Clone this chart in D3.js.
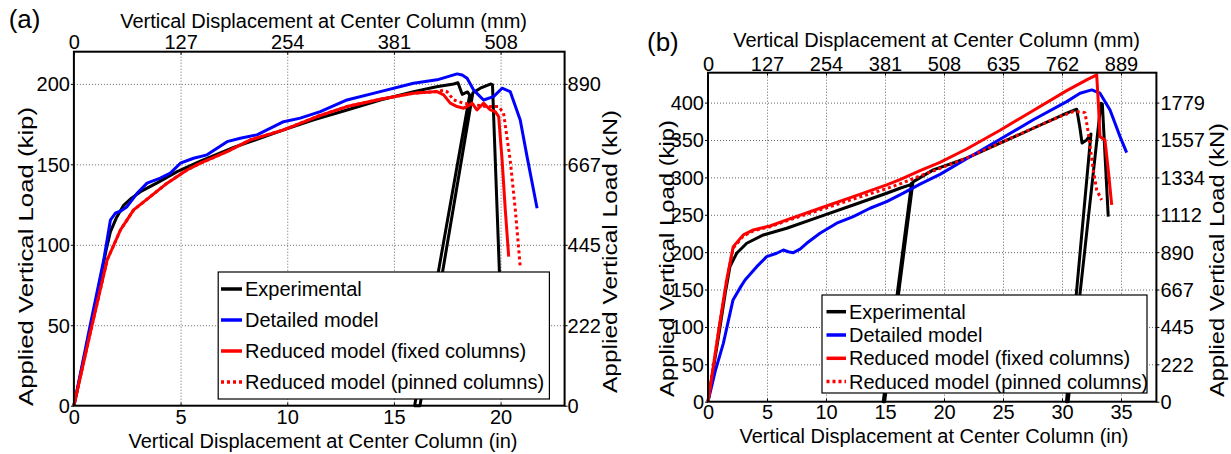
<!DOCTYPE html>
<html>
<head>
<meta charset="utf-8">
<script src="https://cdn.jsdelivr.net/npm/d3@7"></script>
<style>
  body { margin: 0; background: #fff; }
  svg text { font-family: "Liberation Sans", Arial, Helvetica, sans-serif; fill: #000; }
</style>
</head>
<body>
<svg id="fig" width="1231" height="454"></svg>
<script>
const KN = 4.44822;
const MM = 25.4;

const legendLabels = ["Experimental", "Detailed model", "Reduced model (fixed columns)", "Reduced model (pinned columns)"];
const seriesColors = ["#000000", "#0000ff", "#ff0000", "#ff0000"];

const inTicksA = [0, 5, 10, 15, 20];
const kipTicksA = [0, 50, 100, 150, 200];
const mmTicksA = [0, 127, 254, 381, 508];
const inTicksB = [0, 5, 10, 15, 20, 25, 30, 35];
const kipTicksB = [0, 50, 100, 150, 200, 250, 300, 350, 400];
const mmTicksB = [0, 127, 254, 381, 508, 635, 762, 889];

// panel (a) curves, [displacement in, load kip]
const expA = [[0,0],[0.5,31],[1.0,63],[1.5,96],[1.71,108],[2.0,117],[2.33,124.5],[2.7,129],[3.12,133],[3.9,138.5],
  [4.84,145.5],[5.93,152],[7.49,160.5],[9.83,171.4],[11.24,177.6],[12.8,183.8],[14.36,190],[15.92,195.2],[17.0,198.2],
  [17.8,199.9],[18.0,200.7],[18.2,193.5],[18.45,195],[18.55,193],[15.97,0],[16.22,0],[18.7,194.5],[19.05,197.3],
  [19.52,199.9],[19.62,199.5],[20.12,20]];
const blueA = [[0,0],[0.7,46],[1.4,90.6],[1.71,115.3],[1.94,119.6],[2.2,121],[2.49,123.7],[2.96,132],[3.43,138.3],
  [4.05,141.4],[4.52,144.5],[4.99,150.7],[5.61,153.8],[6.24,155.9],[7.18,164.1],[7.8,166.2],[8.58,168.3],[9.83,176.5],
  [10.61,178.7],[11.55,182.8],[12.8,190],[14.36,195.2],[15.92,200.4],[17.02,202.5],[17.96,206.2],[18.2,205.5],
  [18.43,203.5],[18.73,196.3],[19.2,190],[19.67,192.1],[20.07,197.3],[20.45,195.2],[20.92,177.6],[21.24,154.8],[21.71,122.7]];
const fixedA = [[0,0],[0.78,46],[1.56,90.6],[2.18,109.2],[2.8,121.7],[3.58,129.9],[4.37,138.3],[5.3,146.5],[5.93,150.7],
  [7.18,157.9],[8.27,165.2],[9.83,171.4],[11.4,179.7],[12.8,185.9],[14.36,190.5],[15.92,194.2],[17.02,195.2],[17.33,193.2],
  [17.64,188],[17.96,185.9],[18.27,184.9],[18.5,186.5],[18.66,188],[18.89,183.8],[19.2,188],[19.52,183.8],[19.75,182.8],
  [19.91,179.7],[20.07,152.7],[20.22,121.7],[20.38,92.6]];
const pinnedA = [[0,0],[0.78,46],[1.56,90.6],[2.18,109.2],[2.8,121.7],[3.58,129.9],[4.37,138.3],[5.3,146.5],[5.93,150.7],
  [7.18,157.9],[8.27,165.2],[9.83,171.4],[11.4,179.7],[12.8,185.9],[14.36,190.5],[15.92,194.2],[17.02,195.2],[17.3,196],
  [17.49,195.2],[17.8,190],[18.27,188],[18.8,187],[19.36,185.9],[19.91,185.9],[20.14,181.8],[20.45,152.7],[20.69,121.7],[20.92,86.4]];

// panel (b) curves
const expB = [[0,0],[1.0,98],[1.46,145],[1.86,180.6],[2.43,198.5],[3.28,211.9],[4.69,223],[6.67,232],[9.49,247.5],
  [12.31,263.1],[15.14,278.8],[16.27,285.5],[17.12,289.9],[17.25,292],[14.85,0],[14.97,0],[17.37,294],[19.09,310],
  [21.92,325.6],[24.75,345.7],[27.57,365.7],[30.4,385.8],[31.25,391.2],[31.5,368],[31.7,346],[32.09,350.1],[32.45,358],
  [30.38,0],[30.52,0],[33.3,399.2],[33.42,398],[33.92,247.5]];
const blueB = [[0,0],[0.64,42.4],[1.3,78.1],[2.12,136.1],[2.78,153.9],[3.14,162.8],[4.13,180.6],[4.97,194],[5.82,198.5],
  [6.38,202.9],[6.8,200.5],[7.23,199.3],[7.8,204],[8.36,211.9],[9.49,225.3],[10.91,238.7],[12.31,247.5],[13.73,258.7],
  [15.14,267.6],[16.55,279],[17.97,291],[19.66,304],[21.92,325],[24.75,351],[27.57,377],[30.4,401.3],
  [31.53,412.6],[32.52,417],[33.22,412.6],[34.07,390.2],[34.92,354.5],[35.48,333.1]];
const fixedB = [[0,0],[1.0,105],[1.58,162.8],[2.14,207.4],[2.99,223],[3.84,229.7],[5.25,235],[6.67,243.1],[9.49,258.7],
  [12.31,274.2],[15.14,289.9],[16.27,297],[17.97,309],[19.66,320],[21.92,338],[24.75,363],[27.57,389.5],[30.4,416],
  [32.09,430.4],[32.94,437.1],[33.08,399.2],[33.22,354.5],[33.64,350.1],[33.92,310],[34.21,263.1]];
const pinnedB = [[0,0],[1.0,105],[1.58,162.8],[2.14,205.5],[2.99,221.5],[3.84,228.5],[5.25,234],[6.67,242],[9.49,256.5],
  [12.31,271],[15.14,285],[16.55,293],[17.97,302],[19.66,312],[21.92,326],[24.75,346],[27.57,366],[29.83,381.3],
  [30.96,388],[31.5,387.5],[31.95,386.6],[32.23,359],[32.65,310],[32.94,283.2],[33.36,269.8]];

const svg = d3.select("#fig");
svg.append("rect").attr("width", 1231).attr("height", 454).attr("fill", "#fff");

const panels = [
  {
    tag: "(a)", tagX: 8.7, tagY: 28,
    box: [73.9, 564.6, 51.7, 405.7], xMax: 23, yMax: 220,
    inTicks: inTicksA, kipTicks: kipTicksA, mmTicks: mmTicksA,
    series: [expA, blueA, fixedA, pinnedA],
    topTitle: [323.6, 28], topTickY: -2.5, bottomTickY: 18.5, bottomTitle: [323, 447.5],
    leftTitle: [32.8, 256.5, 299], rightTitle: [617, 251.5, 283], leftTickX: -4, rightTickX: 3,
    legend: { x: 218.2, y: 272, w: 331.2, h: 127, row0: 289, dy: 31, l0: 221, l1: 242, tx: 245 }
  },
  {
    tag: "(b)", tagX: 647, tagY: 51,
    box: [708, 1156.4, 72.7, 401.7], xMax: 38, yMax: 440,
    inTicks: inTicksB, kipTicks: kipTicksB, mmTicks: mmTicksB,
    series: [expB, blueB, fixedB, pinnedB],
    topTitle: [936.6, 47], topTickY: -2.2, bottomTickY: 17.5, bottomTitle: [934, 443],
    leftTitle: [674.3, 258.5, 277], rightTitle: [1224.3, 260, 274], leftTickX: -4, rightTickX: 4,
    legend: { x: 822, y: 295, w: 325, h: 98, row0: 311.7, dy: 23.3, l0: 826.5, l1: 846, tx: 849 }
  }
];

function styleTicks(sel) {
  sel.select(".domain").remove();
  sel.selectAll(".tick line").attr("stroke", "#000").attr("stroke-width", 1);
  sel.selectAll(".tick text").attr("font-size", 20).attr("fill", "#000");
}

function drawPanel(p) {
  const [x0, x1, y0, y1] = p.box;
  const x = d3.scaleLinear().domain([0, p.xMax]).range([x0, x1]);
  const xmm = d3.scaleLinear().domain([0, p.xMax * MM]).range([x0, x1]);
  const y = d3.scaleLinear().domain([0, p.yMax]).range([y1, y0]);
  const ykn = d3.scaleLinear().domain([0, p.yMax * KN]).range([y1, y0]);

  const g = svg.append("g");

  // dotted grid
  g.append("g")
    .attr("transform", `translate(0,${y1})`)
    .call(d3.axisBottom(x).tickValues(p.inTicks.filter(v => v > 0)).tickSize(-(y1 - y0)).tickFormat(""))
    .call(s => {
      s.select(".domain").remove();
      s.selectAll("line").attr("stroke", "#666").attr("stroke-dasharray", "1,2");
    });
  g.append("g")
    .attr("transform", `translate(${x0},0)`)
    .call(d3.axisLeft(y).tickValues(p.kipTicks.filter(v => v > 0)).tickSize(-(x1 - x0)).tickFormat(""))
    .call(s => {
      s.select(".domain").remove();
      s.selectAll("line").attr("stroke", "#666").attr("stroke-dasharray", "1,2");
    });

  const line = d3.line().x(d => x(d[0])).y(d => y(d[1]));
  p.series.forEach((s, i) => {
    g.append("path")
      .datum(s)
      .attr("d", line)
      .attr("fill", "none")
      .attr("stroke", seriesColors[i])
      .attr("stroke-width", 3)
      .attr("stroke-linejoin", "round")
      .attr("stroke-dasharray", i === 3 ? "3,3" : null);
  });

  // legend
  const L = p.legend;
  const lg = g.append("g");
  lg.append("rect")
    .attr("x", L.x).attr("y", L.y).attr("width", L.w).attr("height", L.h)
    .attr("fill", "#fff").attr("stroke", "#000").attr("stroke-width", 1.2);
  legendLabels.forEach((lab, i) => {
    const cy = L.row0 + i * L.dy;
    lg.append("line")
      .attr("x1", L.l0).attr("x2", L.l1).attr("y1", cy).attr("y2", cy)
      .attr("stroke", seriesColors[i]).attr("stroke-width", 3.5)
      .attr("stroke-dasharray", i === 3 ? "3,3" : null);
    lg.append("text").attr("x", L.tx).attr("y", cy + 7).attr("font-size", 20).text(lab);
  });

  // axes
  g.append("g")
    .attr("transform", `translate(0,${y1})`)
    .call(d3.axisBottom(x).tickValues(p.inTicks).tickSizeInner(-3).tickSizeOuter(0).tickFormat(d3.format("d")))
    .call(styleTicks)
    .call(s => s.selectAll(".tick text").attr("y", p.bottomTickY).attr("dy", 0));
  g.append("g")
    .attr("transform", `translate(0,${y0})`)
    .call(d3.axisTop(xmm).tickValues(p.mmTicks).tickSizeInner(-3).tickSizeOuter(0).tickFormat(d3.format("d")))
    .call(styleTicks)
    .call(s => s.selectAll(".tick text").attr("y", p.topTickY).attr("dy", 0));
  g.append("g")
    .attr("transform", `translate(${x0},0)`)
    .call(d3.axisLeft(y).tickValues(p.kipTicks).tickSizeInner(3).tickSizeOuter(0).tickFormat(d3.format("d")))
    .call(styleTicks)
    .call(s => s.selectAll(".tick text").attr("x", p.leftTickX).attr("dy", "0.35em"));
  g.append("g")
    .attr("transform", `translate(${x1},0)`)
    .call(d3.axisRight(ykn).tickValues(p.kipTicks.map(k => k * KN)).tickSizeInner(3).tickSizeOuter(0).tickFormat(d3.format(".0f")))
    .call(styleTicks)
    .call(s => s.selectAll(".tick text").attr("x", p.rightTickX).attr("dy", "0.35em"));

  g.append("rect")
    .attr("x", x0).attr("y", y0).attr("width", x1 - x0).attr("height", y1 - y0)
    .attr("fill", "none").attr("stroke", "#000").attr("stroke-width", 2);

  // titles
  g.append("text").attr("x", p.topTitle[0]).attr("y", p.topTitle[1])
    .attr("text-anchor", "middle").attr("font-size", 20)
    .text("Vertical Displacement at Center Column (mm)");
  g.append("text").attr("x", p.bottomTitle[0]).attr("y", p.bottomTitle[1])
    .attr("text-anchor", "middle").attr("font-size", 20)
    .text("Vertical Displacement at Center Column (in)");
  [[p.leftTitle, "Applied Vertical Load (kip)"], [p.rightTitle, "Applied Vertical Load (kN)"]].forEach(([t, s]) => {
    g.append("text")
      .attr("transform", `translate(${t[0]},${t[1]}) rotate(-90)`)
      .attr("text-anchor", "middle").attr("font-size", 20)
      .attr("textLength", t[2]).attr("lengthAdjust", "spacingAndGlyphs")
      .text(s);
  });
  g.append("text").attr("x", p.tagX).attr("y", p.tagY).attr("font-size", 26).text(p.tag);
}

panels.forEach(drawPanel);
</script>
</body>
</html>
